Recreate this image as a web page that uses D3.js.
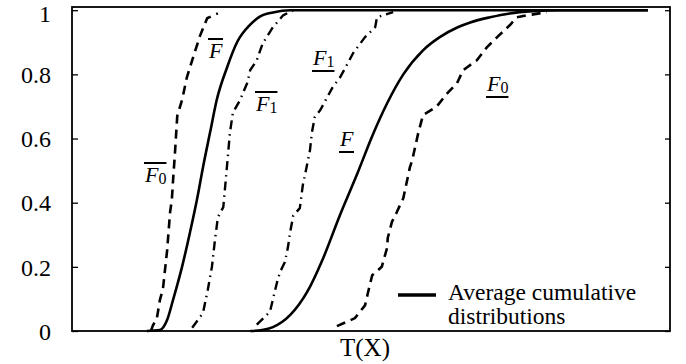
<!DOCTYPE html>
<html>
<head>
<meta charset="utf-8">
<script src="https://cdn.jsdelivr.net/npm/d3@7"></script>
<style>
  html, body { margin: 0; padding: 0; background: #fff; }
  svg { display: block; }
</style>
</head>
<body>
<svg id="chart" width="686" height="364"></svg>
<script>
// ---- data (x in arbitrary T(X) units 0..100, y = cumulative probability) ----
const yTicks = [0, 0.2, 0.4, 0.6, 0.8, 1];
const yTickLabels = ["0", "0.2", "0.4", "0.6", "0.8", "1"];

// upper envelope F-bar_0 (dashed)
const FbarZero = [[13.2,0],[13.5,0.016],[14.2,0.04],[14.7,0.097],[15.2,0.13],[15.9,0.25],[16.4,0.37],[16.7,0.41],[16.9,0.47],[17.2,0.55],[17.6,0.67],[18.4,0.72],[19.2,0.79],[20.2,0.85],[21.4,0.92],[22.6,0.975],[24.4,0.99]];
// F-bar (solid, average)
const Fbar = [[12.5,0],[14.7,0.003],[15.9,0.034],[16.9,0.097],[18.4,0.2],[19.7,0.305],[20.9,0.41],[21.9,0.51],[23.1,0.62],[24.2,0.72],[25.9,0.82],[27.6,0.9],[29.8,0.955],[31.4,0.98],[33.6,0.993],[36.5,1],[96.3,1]];
// F-bar_1 (dash-dot)
const FbarOne = [[20.1,0.01],[21.9,0.056],[22.7,0.128],[23.4,0.2],[23.9,0.283],[24.4,0.355],[25.3,0.386],[25.9,0.51],[26.4,0.617],[26.9,0.68],[28.1,0.72],[29.3,0.773],[29.8,0.813],[30.9,0.844],[31.9,0.897],[33.6,0.947],[35.3,0.984],[37.0,1]];
// F_1 underline (dash-dot)
const FunderOne = [[30.9,0.02],[33.1,0.06],[34.3,0.153],[34.8,0.184],[35.6,0.215],[36.1,0.26],[36.5,0.31],[37.0,0.36],[38.1,0.383],[38.6,0.455],[39.0,0.49],[39.8,0.564],[40.1,0.617],[40.6,0.667],[41.5,0.688],[42.6,0.726],[43.6,0.76],[44.8,0.79],[45.7,0.82],[47.0,0.866],[49.0,0.916],[50.7,0.947],[51.0,0.978],[53.7,0.994]];
// F underline (solid, average)
const Funder = [[29.8,0],[31.8,0.003],[33.6,0.012],[36.5,0.05],[39.3,0.121],[42.0,0.227],[44.8,0.361],[47.7,0.49],[50.3,0.612],[52.7,0.71],[55.4,0.8],[58.7,0.875],[61.5,0.916],[64.5,0.947],[66.6,0.962],[69.9,0.978],[73.2,0.99],[77.1,0.997],[81.6,1],[96.3,1]];
// F_0 underline (dashed)
const FunderZero = [[44.3,0.015],[47.3,0.04],[49.0,0.08],[49.5,0.12],[50.2,0.174],[51.8,0.2],[52.7,0.26],[52.8,0.29],[53.5,0.34],[54.3,0.37],[55.4,0.414],[56.5,0.51],[56.9,0.533],[57.9,0.617],[58.7,0.673],[61.0,0.7],[62.7,0.74],[64.4,0.773],[65.4,0.813],[67.7,0.844],[69.4,0.885],[71.1,0.916],[73.2,0.953],[74.4,0.978],[76.1,0.984],[79.4,0.994]];

const xLabel = "T(X)";
const legendLines = ["Average cumulative", "distributions"];

// ---- layout ----
const FONT = "Liberation Serif";
const svg = d3.select("#chart");
const pL = 72, pR = 670, pT = 7, pB = 331;

const x = d3.scaleLinear().domain([0, 100]).range([pL, pR]);
const y = d3.scaleLinear().domain([0, 1.01]).range([pB, pT]);

const g = svg.append("g");

// axes
const yAxisL = d3.axisLeft(y).tickValues(yTicks)
  .tickFormat((d, i) => yTickLabels[i]).tickSize(-6).tickPadding(21);
const gl = g.append("g").attr("transform", `translate(${pL},0)`).call(yAxisL);
gl.attr("font-family", FONT).attr("font-size", 24);
gl.select(".domain").remove();
gl.selectAll(".tick line").attr("stroke", "#000").attr("stroke-width", 1.3);
gl.selectAll(".tick text").style("font-family", FONT).style("font-size", "24px")
  .attr("fill", "#000").attr("dy", (d) => d === 1 ? "0.45em" : "0.34em");

const yAxisR = d3.axisRight(y).tickValues(yTicks).tickFormat("").tickSize(-5);
const gr = g.append("g").attr("transform", `translate(${pR},0)`).call(yAxisR);
gr.select(".domain").remove();
gr.selectAll(".tick line").attr("stroke", "#000").attr("stroke-width", 1.3);

// curves
const smooth = d3.line().x(d => x(d[0])).y(d => y(d[1])).curve(d3.curveMonotoneX);
const straight = d3.line().x(d => x(d[0])).y(d => y(d[1]));

function draw(data, gen, dash, w) {
  g.append("path").datum(data).attr("d", gen)
    .attr("fill", "none").attr("stroke", "#000")
    .attr("stroke-width", w).attr("stroke-dasharray", dash)
    .attr("stroke-linejoin", "round");
}
draw(FbarZero, straight, "9,6", 2.6);
draw(FunderZero, straight, "9,6", 2.6);
draw(FbarOne, straight, "9,5,1.5,5", 2.4);
draw(FunderOne, straight, "9,5,1.5,5", 2.4);
draw(Fbar, smooth, null, 2.6);
draw(Funder, smooth, null, 2.6);

// frame
g.append("rect").attr("x", pL).attr("y", pT)
  .attr("width", pR - pL).attr("height", pB - pT)
  .attr("fill", "none").attr("stroke", "#000").attr("stroke-width", 1.8);

// curve labels
function label(px, py, sub, bar) {
  const t = g.append("text").attr("x", px).attr("y", py)
    .style("font-family", FONT).style("font-size", "22px");
  t.append("tspan").text("F").style("font-style", "italic");
  if (sub) t.append("tspan").text(sub).style("font-size", "16px").attr("dy", 2);
  const bb = t.node().getBBox();
  const ly = bar === "over" ? py - 19 : py + 6;
  g.append("line").attr("x1", bb.x).attr("x2", bb.x + bb.width)
    .attr("y1", ly).attr("y2", ly).attr("stroke", "#000").attr("stroke-width", 2);
}
label(209, 58, null, "over");
label(145, 182, "0", "over");
label(256, 111, "1", "over");
label(313, 65, "1", "under");
label(340, 146, null, "under");
label(487, 91, "0", "under");

// legend
g.append("line").attr("x1", 398).attr("x2", 436).attr("y1", 295).attr("y2", 295)
  .attr("stroke", "#000").attr("stroke-width", 3.5);
legendLines.forEach((s, i) => {
  g.append("text").attr("x", 448).attr("y", 300 + i * 24).text(s)
    .style("font-family", FONT).style("font-size", "23.5px");
});

// x label
g.append("text").attr("x", 365).attr("y", 356).attr("text-anchor", "middle")
  .text(xLabel).style("font-family", FONT).style("font-size", "25px");
</script>
</body>
</html>
